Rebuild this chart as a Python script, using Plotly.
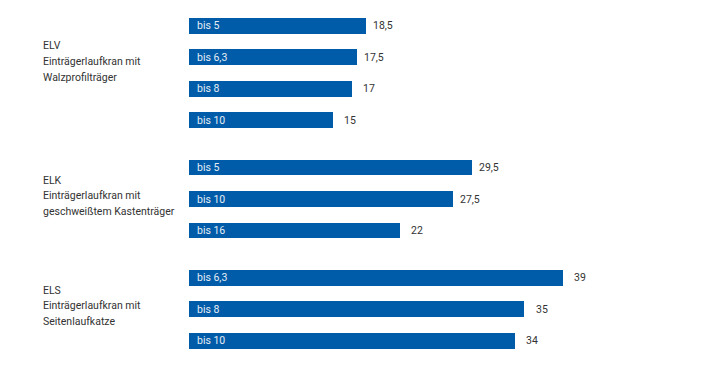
import plotly.graph_objects as go

groups = ["ELV", "ELK", "ELS"]
group_lines = [
    ["ELV", "Einträgerlaufkran mit", "Walzprofilträger"],
    ["ELK", "Einträgerlaufkran mit", "geschweißtem Kastenträger"],
    ["ELS", "Einträgerlaufkran mit", "Seitenlaufkatze"],
]
categories = ["bis 5", "bis 6,3", "bis 8", "bis 10",
              "bis 5", "bis 10", "bis 16",
              "bis 6,3", "bis 8", "bis 10"]
values = [18.5, 17.5, 17, 15,
          29.5, 27.5, 22,
          39, 35, 34]
group_of = [0, 0, 0, 0, 1, 1, 1, 2, 2, 2]

# slot positions: one extra half-slot gap between groups
positions = []
prev_g = None
p = 0.0
for g in group_of:
    if prev_g is not None:
        p += 1.0 if g == prev_g else 1.5
    positions.append(p)
    prev_g = g

BAR = "#005CA9"
TXT = "#333333"
FONT = "Roboto"
FS = 10.5

OFF = 8  # page body margin
W, H = 705 - OFF, 376 - OFF
ML = 189 - OFF
px_per_unit_y = 31.5
top0 = 25.8 - OFF
y_top = -top0 / px_per_unit_y
y_bot = y_top + H / px_per_unit_y
px_per_unit_x = 9.582
PW = W - ML
x_max = PW / px_per_unit_x

fig = go.Figure()
fig.add_trace(go.Bar(
    x=values, y=positions, orientation="h",
    marker=dict(color=BAR, line=dict(width=0)),
    width=0.5, hoverinfo="skip", showlegend=False,
))

annotations = []
for cat, v, yp in zip(categories, values, positions):
    annotations.append(dict(
        x=0, y=yp, xref="x", yref="y", text=cat, showarrow=False,
        xanchor="left", yanchor="middle", xshift=6,
        font=dict(family=FONT, size=FS, color="#E6ECF5"),
    ))
    label = f"{v:g}".replace(".", ",")
    annotations.append(dict(
        x=v, y=yp, xref="x", yref="y", text=label, showarrow=False,
        xanchor="left", yanchor="middle",
        xshift=5 if "," in label else 9.5,
        font=dict(family=FONT, size=FS, color=TXT),
    ))

# group label line positions (pixels from top of page)
group_line_px = [[45, 61.7, 77.7], [180, 195.7, 211.7], [290.7, 305.7, 321.7]]
for lines, ys in zip(group_lines, group_line_px):
    for line, ypx in zip(lines, ys):
        annotations.append(dict(
            x=(41 - 189) / PW, y=1 - (ypx - OFF) / H, xref="paper", yref="paper",
            text=line, showarrow=False, xanchor="left", yanchor="middle",
            font=dict(family=FONT, size=FS, color=TXT),
        ))

fig.update_layout(
    width=W, height=H,
    margin=dict(l=ML, r=0, t=0, b=0, pad=0),
    paper_bgcolor="white", plot_bgcolor="white",
    xaxis=dict(range=[0, x_max], visible=False, fixedrange=True),
    yaxis=dict(range=[y_bot, y_top], visible=False, fixedrange=True),
    annotations=annotations,
    bargap=0,
)
fig.write_html("out.html")
